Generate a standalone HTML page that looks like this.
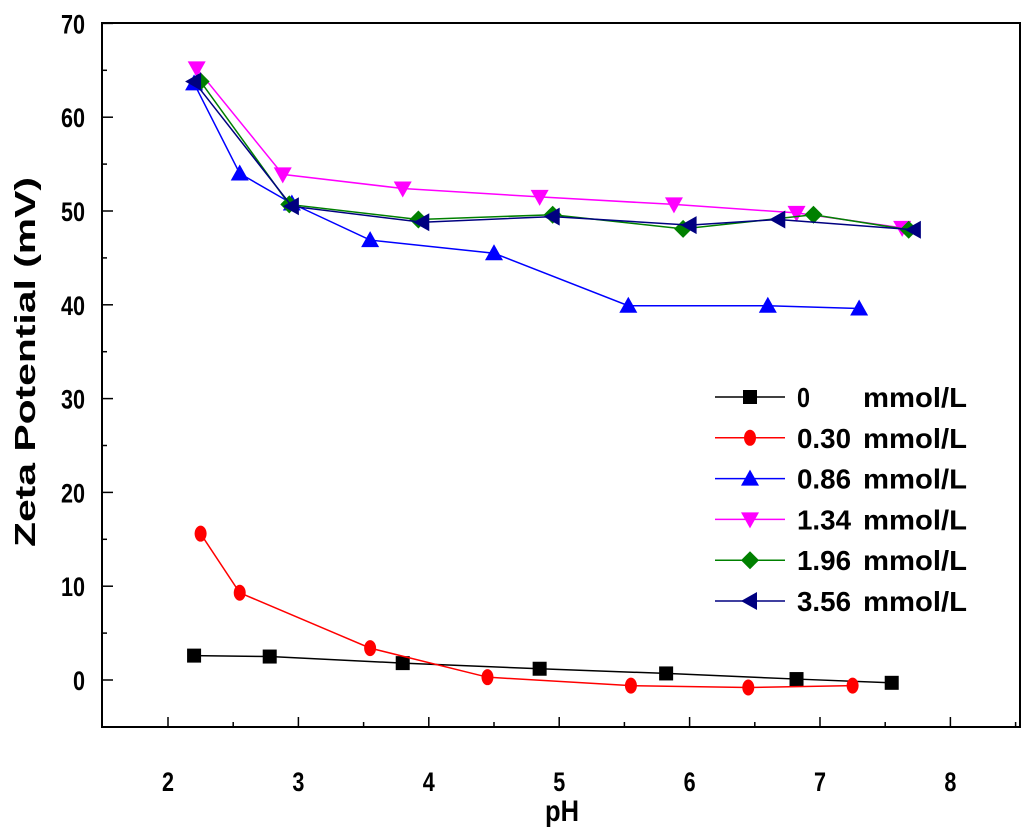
<!DOCTYPE html>
<html><head><meta charset="utf-8"><style>
html,body{margin:0;padding:0;background:#fff;}
svg{display:block;font-family:"Liberation Sans",sans-serif;font-weight:bold;}
</style></head><body>
<svg id="c" width="1024" height="837" viewBox="0 0 1024 837" xmlns="http://www.w3.org/2000/svg">
<rect x="102" y="23" width="918" height="704" fill="none" stroke="#000" stroke-width="2"/>
<g id="axes"></g>
<g id="series"></g>
<g id="legend"></g>
<text transform="translate(562,821) scale(0.85,1)" font-size="30" text-anchor="middle">pH</text>
<text transform="translate(35,362) rotate(-90)" font-size="29" text-anchor="middle" textLength="370" lengthAdjust="spacingAndGlyphs">Zeta Potential (mV)</text>
</svg>
<script>
const xTicks=[2,3,4,5,6,7,8];
const yTicks=[0,10,20,30,40,50,60,70];
const seriesConc=["0","0.30","0.86","1.34","1.96","3.56"];
const phBlack=[2.2,2.78,3.8,4.85,5.82,6.82,7.55];
const zBlack=[2.6,2.5,1.8,1.2,0.7,0.1,-0.3];
const phRed=[2.25,2.55,3.55,4.45,5.55,6.45,7.25];
const zRed=[15.6,9.3,3.4,0.3,-0.6,-0.8,-0.6];
const phBlue=[2.2,2.55,2.95,3.55,4.5,5.53,6.6,7.3];
const zBlue=[63.6,54,50.8,46.9,45.5,39.9,39.9,39.6];
const phMag=[2.22,2.88,3.8,4.85,5.88,6.82,7.63];
const zMag=[65.2,53.9,52.4,51.5,50.7,49.8,48.2];
const phGreen=[2.25,2.93,3.92,4.95,5.95,6.95,7.68];
const zGreen=[63.8,50.7,49.1,49.6,48.1,49.6,48];
const phNavy=[2.2,2.95,3.95,4.95,6.0,6.68,7.72];
const zNavy=[63.8,50.5,48.8,49.4,48.5,49.1,48];

const NS="http://www.w3.org/2000/svg";
const X=v=>168+(v-2)*130.4;
const Y=v=>680-v*9.38;
function mk(tag,attrs,parent){const e=document.createElementNS(NS,tag);for(const k in attrs)e.setAttribute(k,attrs[k]);parent.appendChild(e);return e;}
const axes=document.getElementById('axes');
xTicks.forEach(t=>{
  const l=mk('line',{x1:X(t),x2:X(t),y1:727,y2:717,stroke:'#000','stroke-width':1.5},axes);
  
  
  const m=mk('line',{x1:X(t+0.5),x2:X(t+0.5),y1:727,y2:722,stroke:'#000','stroke-width':1.5},axes);
  
  
  const tx=mk('text',{transform:`translate(${X(t)},791) scale(0.8,1)`,'font-size':27,'text-anchor':'middle'},axes);
  tx.textContent=t;
  
  
});
yTicks.forEach(t=>{
  const l=mk('line',{x1:102,x2:113,y1:Y(t),y2:Y(t),stroke:'#000','stroke-width':1.5},axes);
  
  
  if(t<70){const m=mk('line',{x1:102,x2:107,y1:Y(t+5),y2:Y(t+5),stroke:'#000','stroke-width':1.5},axes);
  
  }
  const tx=mk('text',{transform:`translate(85,${Y(t)+10}) scale(0.8,1)`,'font-size':27,'text-anchor':'end'},axes);
  tx.textContent=t;
  
  
});
const colors=['#000','#ff0000','#0000ff','#ff00ff','#008000','#000080'];
const shapes=['square','circle','up','down','diamond','left'];
const data=[[phBlack,zBlack],[phRed,zRed],[phBlue,zBlue],[phMag,zMag],[phGreen,zGreen],[phNavy,zNavy]];
function marker(shape,x,y,c,p){
  let e;
  if(shape==='square')e=mk('rect',{x:x-7,y:y-7,width:14,height:14,fill:c},p);
  else if(shape==='circle')e=mk('ellipse',{cx:x,cy:y,rx:6,ry:8,fill:c},p);
  else{let pts;
    if(shape==='up')pts=[[x,y-9],[x+9,y+7],[x-9,y+7]];
    if(shape==='down')pts=[[x-9,y-7],[x+9,y-7],[x,y+9]];
    if(shape==='diamond')pts=[[x,y-9],[x+9,y],[x,y+9],[x-9,y]];
    if(shape==='left')pts=[[x-9,y],[x+7,y-9],[x+7,y+9]];
    e=mk('polygon',{points:pts.map(q=>q.join(',')).join(' '),fill:c},p);}
  return e;
}
const sg=document.getElementById('series');
data.forEach((d,i)=>{
  const g=mk('g',{},sg);
  
  
  const pl=mk('polyline',{points:d[0].map((v,j)=>X(v)+','+Y(d[1][j])).join(' '),fill:'none',stroke:colors[i],'stroke-width':1.5},g);
  
  
  d[0].forEach((v,j)=>{
    const m=marker(shapes[i],X(v),Y(d[1][j]),colors[i],g);
    
    
  });
});
const lg=document.getElementById('legend');
seriesConc.forEach((n,i)=>{
  const y=397+i*40.8;
  const g=mk('g',{},lg);
  
  
  mk('line',{x1:715,x2:785,y1:y,y2:y,stroke:colors[i],'stroke-width':1.5},g);
  marker(shapes[i],750,y,colors[i],g);
  const t1=mk('text',{x:797,y:y+10,'font-size':28,textLength:(n.length>1?54:13),lengthAdjust:'spacingAndGlyphs'},g);
  t1.textContent=n;
  const t2=mk('text',{x:863,y:y+10,'font-size':28,textLength:104,lengthAdjust:'spacingAndGlyphs'},g);
  t2.textContent='mmol/L';
});
</script>
</body></html>
